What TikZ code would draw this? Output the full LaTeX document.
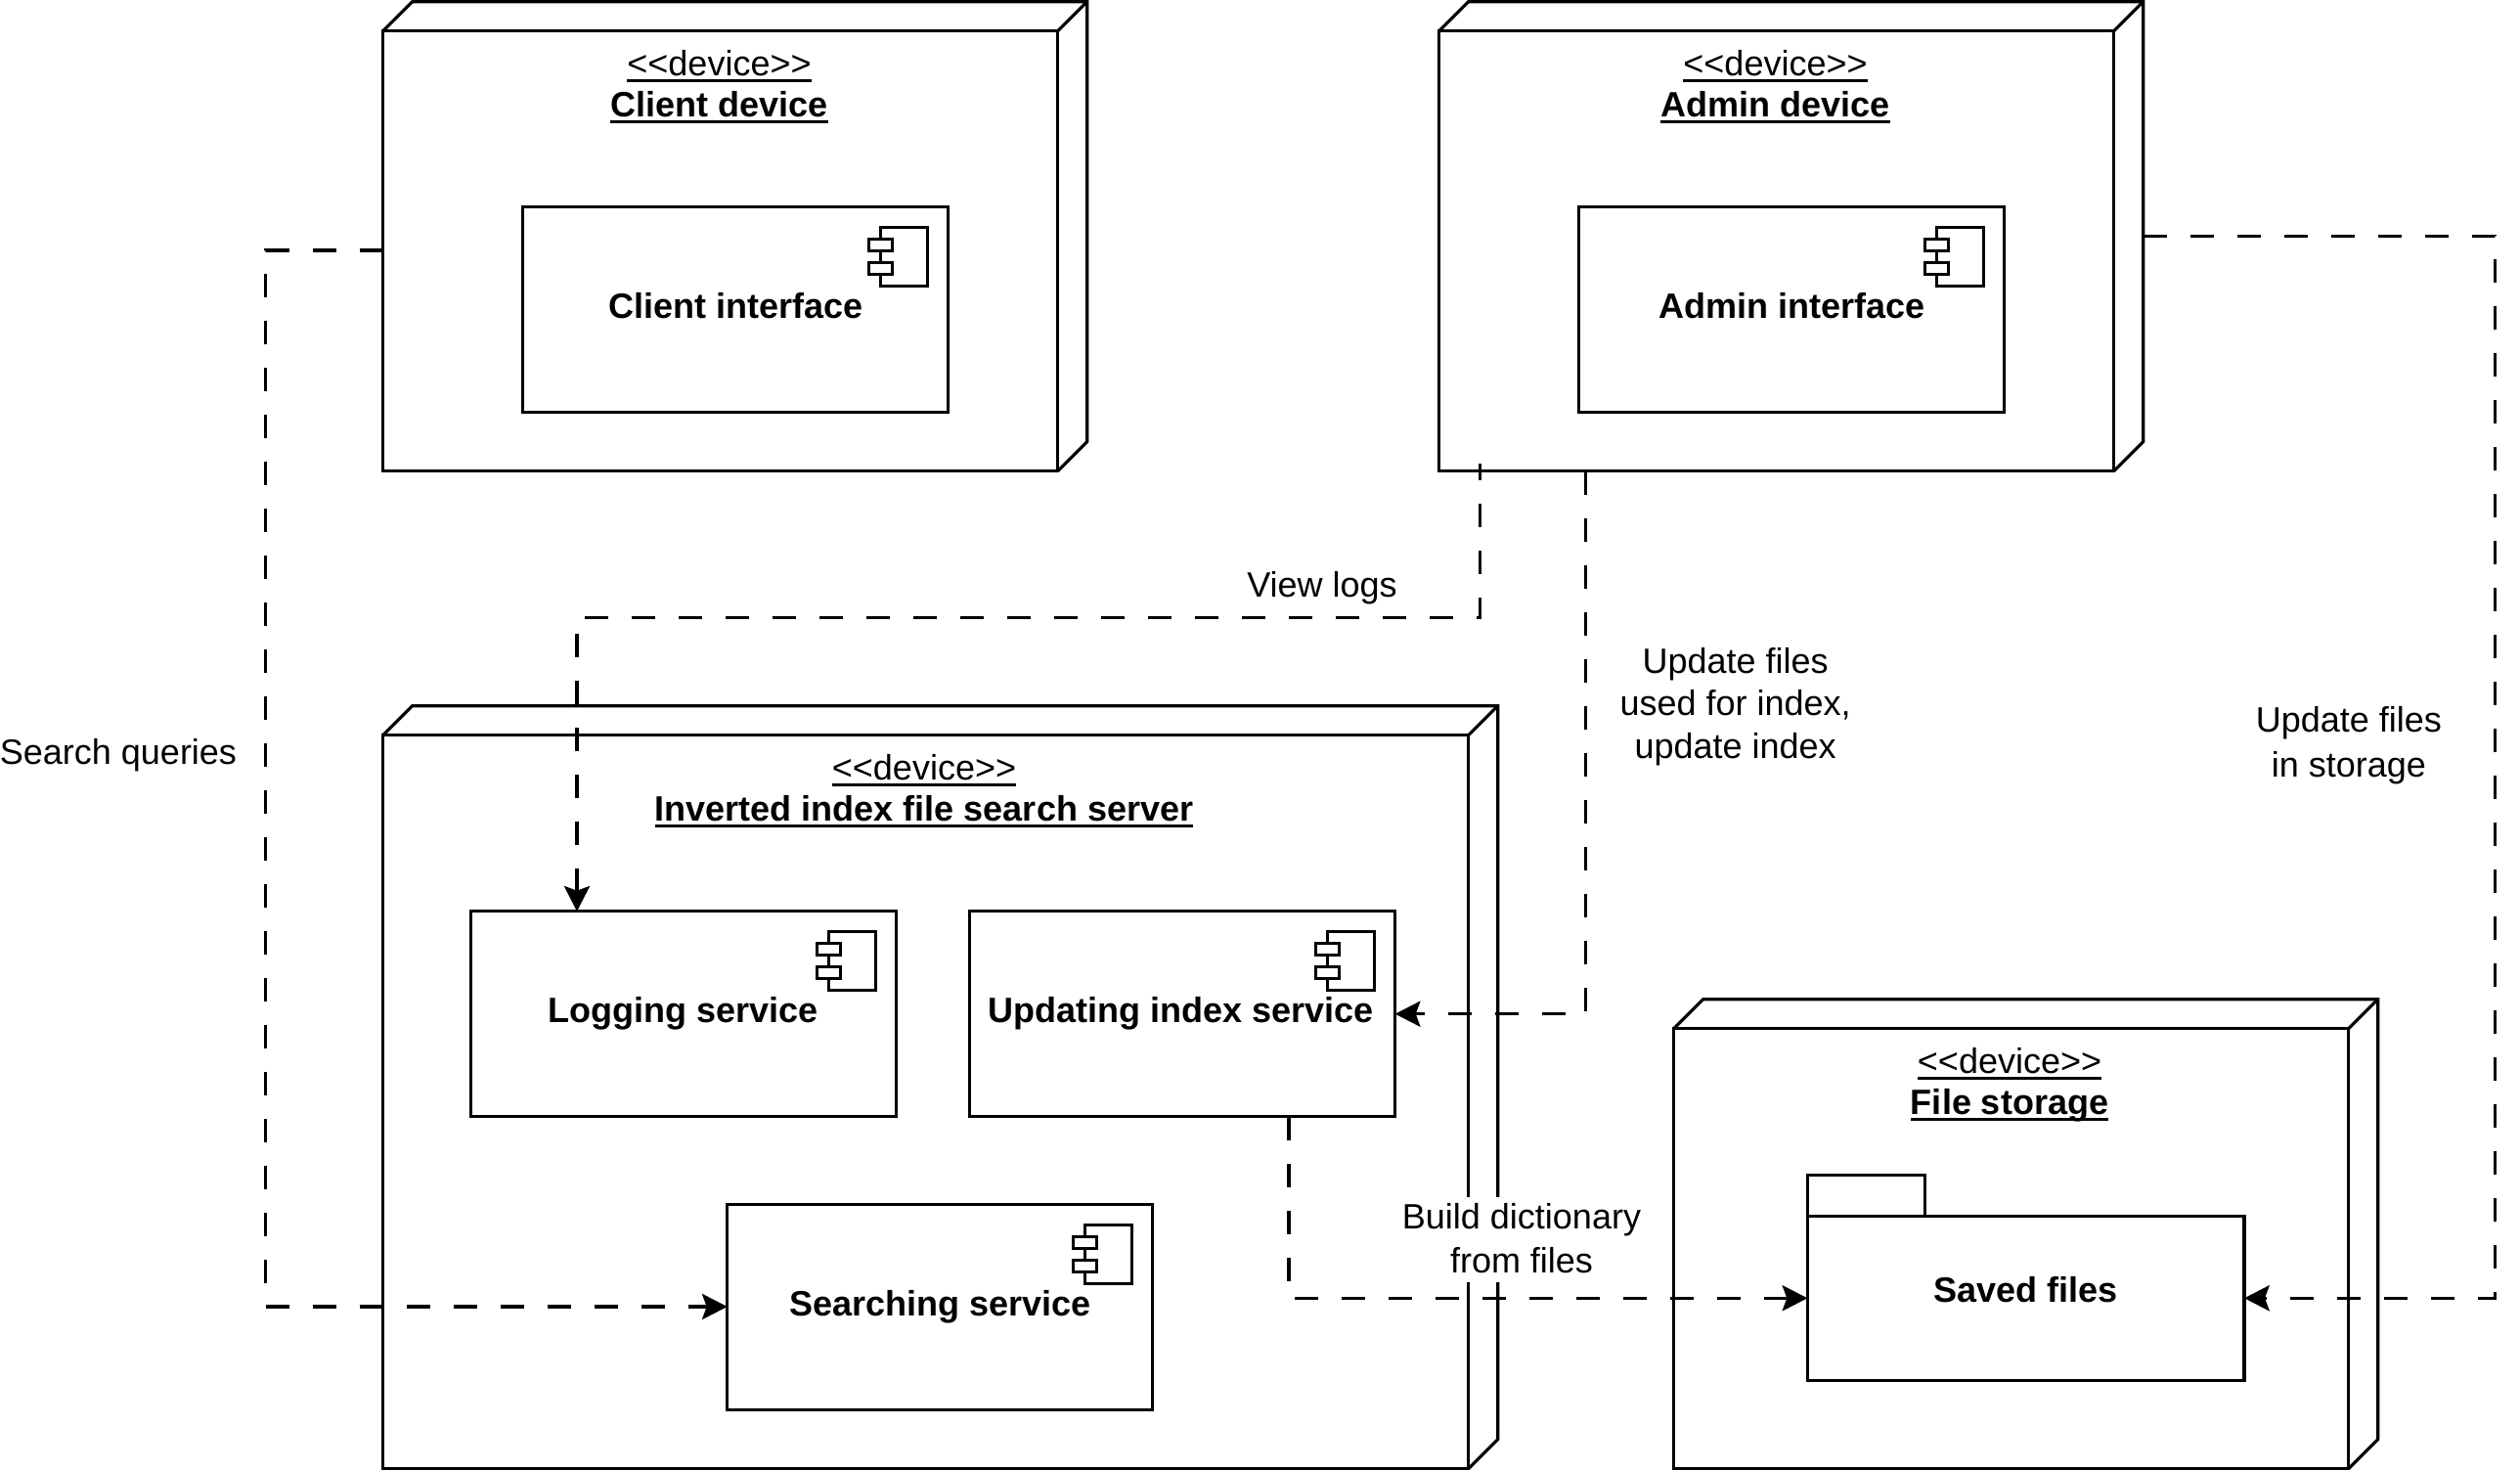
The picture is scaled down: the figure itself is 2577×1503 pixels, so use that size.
\documentclass[tikz,border=0pt]{standalone}
\usepackage{fontspec}
\setmainfont{Liberation Sans}
\usetikzlibrary{arrows.meta}
\newcommand{\ulin}[1]{\setbox0=\hbox{#1}\hbox{\rlap{\vrule width\wd0 height -1.4pt depth 2.6pt}\box0}}
\newcommand{\devback}[1]{%
  \draw[stroke] (#1.north west) -- ++(30,-30) -- ([shift={(30,-30)}]#1.north east) -- ([shift={(30,-30)}]#1.south east) -- (#1.south east);
  \draw[stroke] (#1.north east) -- ([shift={(30,-30)}]#1.north east);}
\newcommand{\compicon}[1]{%
  \begin{scope}[shift={(#1.north east)}]
    \draw[stroke,fill=white] (-69,21) rectangle (-21,81);
    \draw[stroke,fill=white] (-81,33) rectangle (-57,45);
    \draw[stroke,fill=white] (-81,57) rectangle (-57,69);
  \end{scope}}
\newcommand{\dev}{<\kern0pt<device>\kern0pt>}
\tikzset{
  stroke/.style={line width=1.28pt,draw=black},
  devicebox/.style={stroke,rectangle,inner sep=0pt,outer sep=0pt,anchor=north west,fill=white},
  compbox/.style={devicebox},
  regular/.style={inner sep=0pt,outer sep=0pt,anchor=base,font=\fontsize{14.4pt}{17pt}\selectfont,text=black},
  boldlabel/.style={regular,font=\fontsize{14.4pt}{17pt}\selectfont\bfseries},
  flow/.style={stroke,dash pattern=on 9.6pt off 9.6pt,-{Stealth[length=10.4pt,width=10.7pt,inset=2pt,line width=0pt]}},
}
\begin{document}
\begin{tikzpicture}[x=0.4pt,y=-0.4pt]
\useasboundingbox (0,0) rectangle (2577,1503);
% devices
\node[devicebox,minimum width=690*0.4pt,minimum height=450*0.4pt] (client) at (391.7,31.7) {};
\node[devicebox,minimum width=690*0.4pt,minimum height=450*0.4pt] (admin) at (1471.7,31.7) {};
\node[devicebox,minimum width=1110*0.4pt,minimum height=750*0.4pt] (server) at (391.7,751.7) {};
\node[devicebox,minimum width=690*0.4pt,minimum height=450*0.4pt] (storage) at (1711.7,1051.7) {};
\devback{client}\devback{admin}\devback{server}\devback{storage}
% titles
\node[regular] (t1a) at (735.5,77.5) {\ulin{\dev}};
\node[boldlabel] (t1b) at (735.5,119.4) {\ulin{Client device}};
\node[regular] (t2a) at (1815.5,77.5) {\ulin{\dev}};
\node[boldlabel] (t2b) at (1815.5,119.4) {\ulin{Admin device}};
\node[regular] (t3a) at (945,797.5) {\ulin{\dev}};
\node[boldlabel] (t3b) at (945,839.4) {\ulin{Inverted index file search server}};
\node[regular] (t4a) at (2055,1097.5) {\ulin{\dev}};
\node[boldlabel] (t4b) at (2055,1139.4) {\ulin{File storage}};
% components
\node[compbox,minimum width=435*0.4pt,minimum height=210*0.4pt] (cif) at (534.7,211.7) {};
\node[compbox,minimum width=435*0.4pt,minimum height=210*0.4pt] (aif) at (1614.7,211.7) {};
\node[compbox,minimum width=435*0.4pt,minimum height=210*0.4pt] (logging) at (481.7,931.7) {};
\node[compbox,minimum width=435*0.4pt,minimum height=210*0.4pt] (updating) at (991.7,931.7) {};
\node[compbox,minimum width=435*0.4pt,minimum height=210*0.4pt] (searching) at (743.7,1231.7) {};
\compicon{cif}\compicon{aif}\compicon{logging}\compicon{updating}\compicon{searching}
\node[boldlabel] (lcif) at (752.6,325.8) {Client interface};
\node[boldlabel] (laif) at (1832.6,325.8) {Admin interface};
\node[boldlabel] (llog) at (698.5,1045.8) {Logging service};
\node[boldlabel] (lupd) at (1207.7,1045.8) {Updating index service};
\node[boldlabel] (lsea) at (961.3,1345.8) {Searching service};
% package
\node[compbox,minimum width=120*0.4pt,minimum height=42*0.4pt] (tab) at (1848.3,1201.3) {};
\node[compbox,minimum width=446.7*0.4pt,minimum height=168*0.4pt] (saved) at (1848.3,1243.3) {};
\node[boldlabel] (lsav) at (2071.6,1331.5) {Saved files};
% connector waypoints
\coordinate (w1) at (271.7,256);
\coordinate (w2) at (271.7,1336);
\coordinate (w3) at (1513.3,631.7);
\coordinate (w4) at (590,631.7);
\coordinate[yshift=2.9pt] (w3s) at (w3 |- admin.south);
\coordinate (w5) at (1621.7,1036.7);
\coordinate (w6) at (1318,1327.3);
\coordinate (w7) at (2551.7,241.3);
\coordinate (w8) at (2551.7,1327.3);
% connectors
\draw[flow] (w1 -| client.west) -- (w1) -- (w2) -- (w2 -| searching.west);
\draw[flow,dash phase=2.8pt] (w3s) -- (w3) -- (w4) -- (w4 |- logging.north);
\draw[flow] (w5 |- admin.south) -- (w5) -- (w5 -| updating.east);
\draw[flow] (w6 |- updating.south) -- (w6) -- (w6 -| saved.west);
\draw[flow] (w7 -| admin.east) ++(30,0) -- (w7) -- (w8) -- (w8 -| saved.east);
% labels
\node[regular] (q1) at (121,781.7) {Search queries};
\node[regular] (q2) at (1352,611) {View logs};
\node[regular] (q3a) at (1774.6,688.5) {Update files};
\node[regular] (q3b) at (1774.6,732) {used for index,};
\node[regular] (q3c) at (1774.6,775.5) {update index};
\node[regular] (q4a) at (2401.8,749) {Update files};
\node[regular] (q4b) at (2401.8,794.5) {in storage};
\fill[white] (1430,1224) rectangle (1680,1311);
\node[regular] (q5a) at (1556,1256) {Build dictionary};
\node[regular] (q5b) at (1556,1301) {from files};
\end{tikzpicture}
\end{document}
